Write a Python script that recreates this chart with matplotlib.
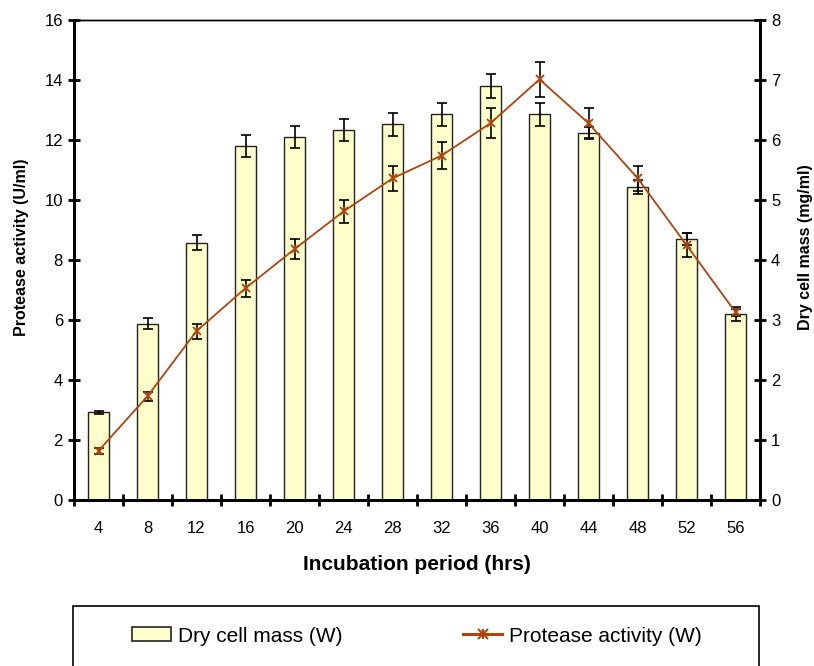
import numpy as np
import matplotlib
matplotlib.use("Agg")
import matplotlib.pyplot as plt
from matplotlib.patches import Rectangle, Patch
from matplotlib.lines import Line2D
from matplotlib.legend_handler import HandlerTuple

plt.rcParams['font.family'] = ['Liberation Sans', 'DejaVu Sans']

hours = ['4', '8', '12', '16', '20', '24', '28', '32', '36', '40', '44', '48', '52', '56']
# dry cell mass (mg/ml), right axis
dcm = [1.46, 2.94, 4.29, 5.90, 6.05, 6.17, 6.26, 6.43, 6.90, 6.43, 6.12, 5.22, 4.35, 3.10]
dcm_err = [0.03, 0.09, 0.13, 0.18, 0.18, 0.18, 0.19, 0.19, 0.20, 0.19, 0.10, 0.12, 0.10, 0.12]
# protease activity (U/ml), left axis
prot = [1.64, 3.46, 5.63, 7.06, 8.36, 9.62, 10.72, 11.48, 12.56, 14.02, 12.56, 10.73, 8.50, 6.26]
prot_err = [0.09, 0.15, 0.25, 0.29, 0.34, 0.38, 0.43, 0.46, 0.50, 0.58, 0.50, 0.42, 0.40, 0.12]

line_col = '#B0440E'
bar_col = '#FFFFCC'

fig = plt.figure(figsize=(8.14, 6.66), dpi=100)
ax = fig.add_axes([74/814, 1-500/666, (760-74)/814, 480/666])
ax2 = ax.twinx()

x = np.arange(len(hours))
ax2.bar(x, dcm, width=0.44, color=bar_col, edgecolor='#222222', linewidth=1.0)
ax2.errorbar(x, dcm, yerr=dcm_err, fmt='none', ecolor='black', elinewidth=1.2, capsize=3.5, capthick=1.2)

ax.errorbar(x, prot, yerr=prot_err, fmt='none', ecolor='black', elinewidth=1.2, capsize=3.5, capthick=1.2)
ax.plot(x, prot, color=line_col, linewidth=1.3, marker='x', markersize=6, markeredgewidth=1.3)
ax.plot(x, prot, linestyle='none', color=line_col, marker='|', markersize=6, markeredgewidth=1.3)

ax.set_zorder(ax2.get_zorder() + 1)
ax.patch.set_visible(False)

ax.set_xlim(-0.5, len(hours) - 0.5)
ax.set_ylim(0, 16)
ax2.set_ylim(0, 8)
ax.set_yticks(np.arange(0, 17, 2))
ax2.set_yticks(np.arange(0, 9, 1))
ax.set_xticks(np.arange(-0.5, len(hours), 1))
ax.set_xticklabels([])
ax.set_xticks(x, minor=True)
ax.set_xticklabels(hours, minor=True)
ax.tick_params(axis='x', which='minor', length=0, labelsize=12, pad=15)
ax.tick_params(axis='x', which='major', direction='inout', length=9, width=2)
ax.tick_params(axis='y', direction='inout', length=9, width=2, labelsize=12)
ax2.tick_params(axis='y', direction='inout', length=9, width=2, labelsize=12)

for a in (ax, ax2):
    for s in ('left', 'right', 'bottom'):
        a.spines[s].set_linewidth(2)
    a.spines['top'].set_linewidth(1)

ax.set_ylabel('Protease activity (U/ml)', fontsize=11.5, fontweight='bold')
ax.yaxis.set_label_coords(-0.076, 0.527)
ax.yaxis.label.set_va('center')
ax2.set_ylabel('Dry cell mass (mg/ml)', fontsize=11.5, fontweight='bold')
ax2.yaxis.set_label_coords(1.066, 0.527)
ax2.yaxis.label.set_va('center')
ax.set_xlabel('Incubation period (hrs)', fontsize=15, fontweight='bold')
ax.xaxis.set_label_coords(0.5, -0.135)
ax.xaxis.label.set_va('center')

# legend box (bottom cut off by the figure edge)
fig.patches.append(Rectangle((73/814, -0.05), (759-73)/814, 0.05 + 1 - 606/666,
                             transform=fig.transFigure, facecolor='white',
                             edgecolor='black', linewidth=1.2, clip_on=False))
h_bar = Patch(facecolor=bar_col, edgecolor='#222222', linewidth=1.2)
h_line = (Line2D([], [], color=line_col, linewidth=2.2, marker='x', markersize=7, markeredgewidth=1.5),
          Line2D([], [], color=line_col, linestyle='none', marker='|', markersize=7, markeredgewidth=1.5))
fig.legend([h_bar, h_line], ['Dry cell mass (W)', 'Protease activity (W)'],
           loc='center', bbox_to_anchor=(417/814, 1 - 636/666), ncol=2, frameon=False,
           fontsize=15, columnspacing=5.8, handlelength=1.85, handleheight=0.65,
           handletextpad=0.35, borderpad=0, borderaxespad=0,
           handler_map={tuple: HandlerTuple(ndivide=1)})

fig.savefig('out.png', dpi=100)
